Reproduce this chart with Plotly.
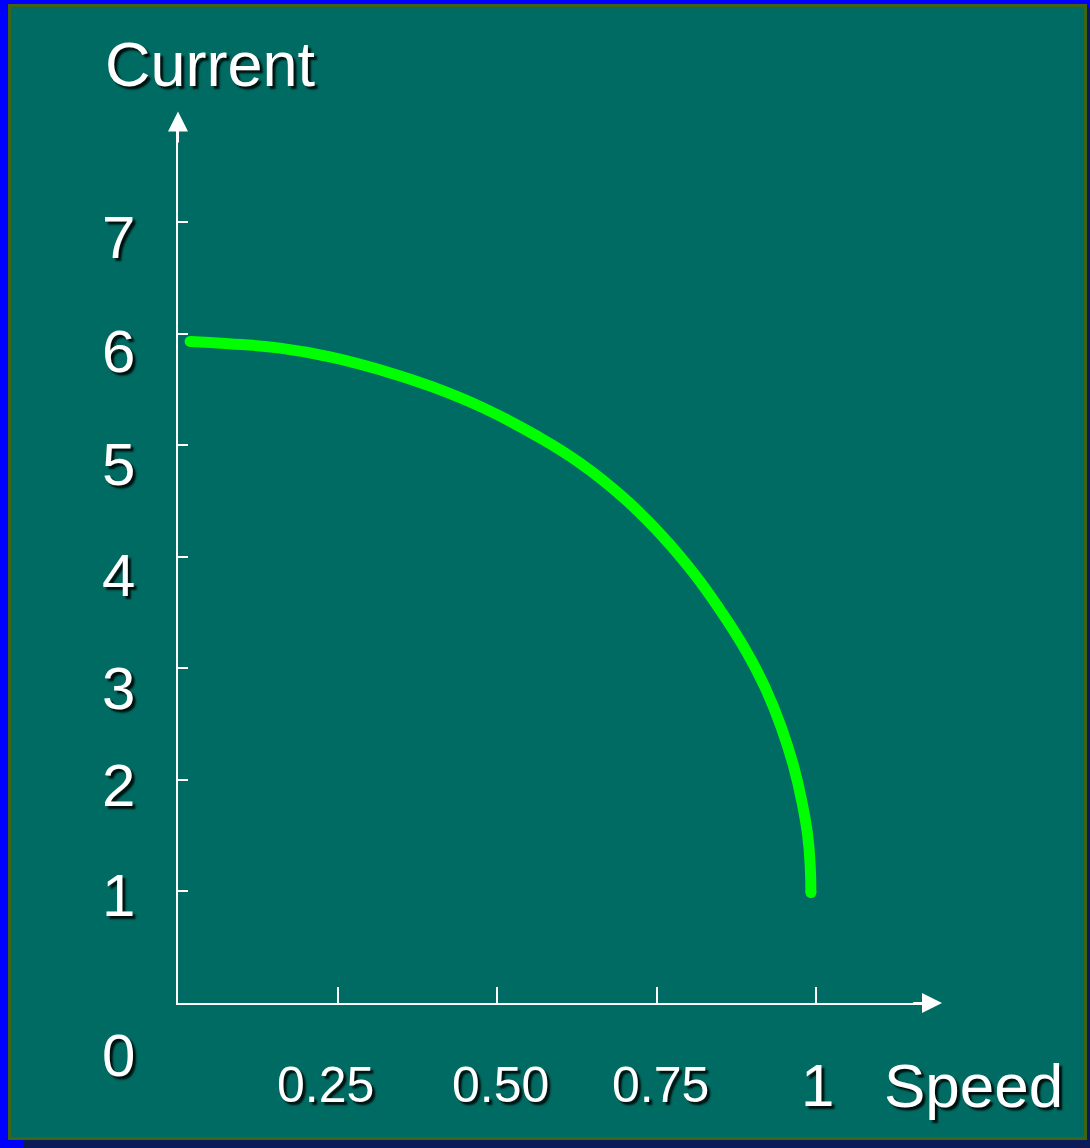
"""Current vs speed curve drawn in the style of a slide."""
import plotly.graph_objects as go

# curve
speed = [0.019, 0.08, 0.16, 0.24, 0.32, 0.40, 0.48, 0.56, 0.63, 0.70, 0.76,
         0.81, 0.85, 0.89, 0.92, 0.945, 0.965, 0.978, 0.987, 0.991, 0.992]
current = [5.93, 5.91, 5.87, 5.79, 5.67, 5.52, 5.33, 5.09, 4.84, 4.52, 4.18,
           3.84, 3.52, 3.16, 2.83, 2.48, 2.12, 1.80, 1.50, 1.22, 0.99]

x_ticks = [0.25, 0.50, 0.75, 1.0]
x_tick_labels = ["0.25", "0.50", "0.75", "1"]
y_ticks = [1, 2, 3, 4, 5, 6, 7]
y_tick_labels = ["0", "1", "2", "3", "4", "5", "6", "7"]

W, H = 1090, 1148
TEAL = "#006B62"
OLIVE = "#3E6414"
NAVY = "#0B1B58"
BLUE = "#0000FF"
FONT = "Liberation Sans, Arial, sans-serif"
SHADOW = "3px 3px 2px rgba(0,0,0,0.85)"


def px(x, y):
    """pixel -> paper coords"""
    return x / W, 1 - y / H


fig = go.Figure()

fig.add_trace(go.Scatter(
    x=speed, y=current, mode="lines",
    line=dict(color="#00FF00", width=11, shape="spline", smoothing=1.3),
    cliponaxis=False, hoverinfo="skip",
))
# round caps at both ends
fig.add_trace(go.Scatter(
    x=[speed[0], speed[-1]], y=[current[0], current[-1]], mode="markers",
    marker=dict(color="#00FF00", size=11), cliponaxis=False, hoverinfo="skip",
))

# slide frame
shapes = []
x0, y0 = px(24, 7)
x1, y1 = px(W, H)
shapes.append(dict(type="rect", xref="paper", yref="paper", x0=x0, y0=y0, x1=x1, y1=y1,
                   fillcolor=NAVY, line_width=0, layer="below"))
x0, y0 = px(8, 4)
x1, y1 = px(1087, 1140)
shapes.append(dict(type="rect", xref="paper", yref="paper", x0=x0, y0=y0, x1=x1, y1=y1,
                   fillcolor=OLIVE, line_width=0, layer="below"))
x0, y0 = px(11, 7)
x1, y1 = px(1084, 1137)
shapes.append(dict(type="rect", xref="paper", yref="paper", x0=x0, y0=y0, x1=x1, y1=y1,
                   fillcolor=TEAL, line_width=0, layer="below"))

ann = []
# arrow heads on the axes
ann.append(dict(x=1.1975, y=0, ax=1.15, ay=0, xref="x", yref="y", axref="x", ayref="y",
                showarrow=True, arrowhead=2, arrowsize=2.0, arrowwidth=2,
                arrowcolor="white", text=""))
ann.append(dict(x=0, y=7.99, ax=0, ay=7.7, xref="x", yref="y", axref="x", ayref="y",
                showarrow=True, arrowhead=2, arrowsize=2.0, arrowwidth=2,
                arrowcolor="white", text=""))


def label(text, xp, yp, size):
    xx, yy = px(xp, yp)
    return dict(x=xx, y=yy, xref="paper", yref="paper", text=text, showarrow=False,
                xanchor="center", yanchor="middle",
                font=dict(family=FONT, size=size, color="white", shadow=SHADOW))


# tick labels placed by hand like on the slide
y_label_px = [1055, 895, 785, 688, 575, 465, 352, 238]
for lab, yp in zip(y_tick_labels, y_label_px):
    ann.append(label(lab, 118, yp, 60))

x_label_px = [325, 500, 660, 817]
x_label_size = [50, 50, 50, 60]
for lab, xp, sz in zip(x_tick_labels, x_label_px, x_label_size):
    ann.append(label(lab, xp, 1085, sz))

ann.append(label("Speed", 973, 1085, 62))
ann.append(label("Current", 210, 64, 63))

fig.update_layout(
    width=W, height=H,
    margin=dict(l=0, r=0, t=0, b=0),
    paper_bgcolor=BLUE, plot_bgcolor="rgba(0,0,0,0)",
    showlegend=False,
    shapes=shapes, annotations=ann,
    xaxis=dict(domain=[178 / W, 930 / W], range=[0, (930 - 178) / 638],
               showgrid=False, zeroline=False, showline=True, linecolor="white", linewidth=2,
               ticks="inside", tickvals=x_ticks, ticklen=16, tickwidth=2, tickcolor="white",
               showticklabels=False, fixedrange=True),
    yaxis=dict(domain=[1 - 1003 / H, 1 - 125 / H], range=[0, (1002.5 - 125) / 111.5],
               showgrid=False, zeroline=False, showline=True, linecolor="white", linewidth=2,
               ticks="inside", tickvals=y_ticks, ticklen=10, tickwidth=2, tickcolor="white",
               showticklabels=False, fixedrange=True),
)

fig.write_html("out.html", config={"displayModeBar": False},
               post_script="document.body.style.margin='0';")
